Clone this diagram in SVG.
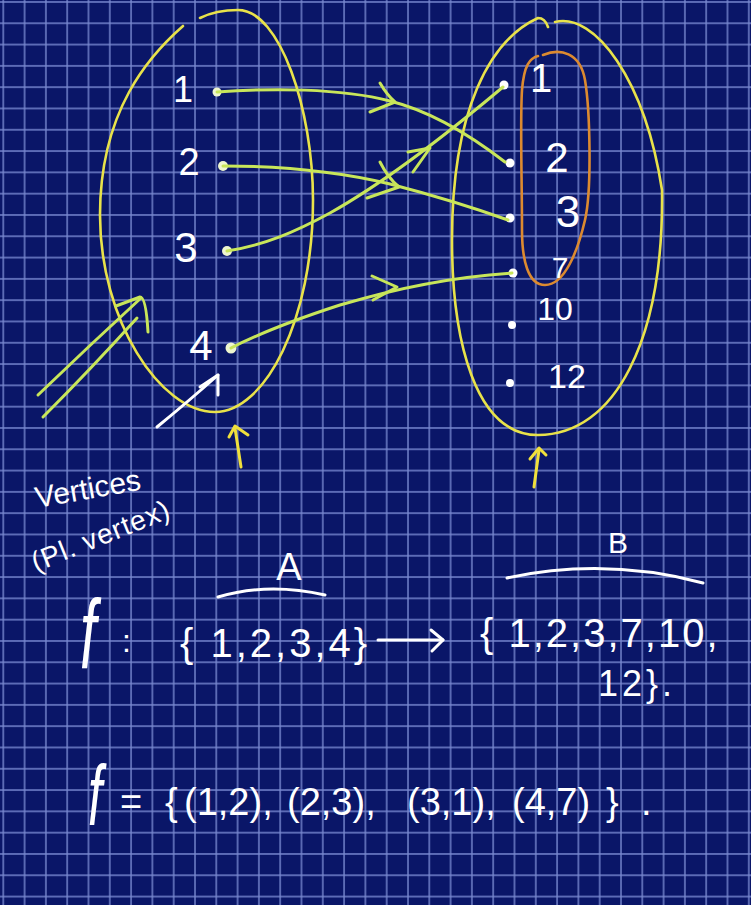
<svg xmlns="http://www.w3.org/2000/svg" width="751" height="905" viewBox="0 0 751 905">
<defs>
<pattern id="grid" patternUnits="userSpaceOnUse" x="2.3" y="1" width="21.3" height="21.3">
<path d="M1,0V21.3M0,1H21.3" stroke="#7888cf" stroke-width="1.4" fill="none"/>
</pattern>
</defs>
<style>
.set{fill:none;stroke:#e8e24a;stroke-width:2.6;stroke-linecap:round;stroke-linejoin:round}
.sub{fill:none;stroke:#dc8a30;stroke-width:2.6;stroke-linecap:round}
.con{fill:none;stroke:#c8e65a;stroke-width:3;stroke-linecap:round;stroke-linejoin:round}
.ylw{fill:none;stroke:#f0e03c;stroke-width:3;stroke-linecap:round;stroke-linejoin:round}
.wht{fill:none;stroke:#ffffff;stroke-width:3;stroke-linecap:round;stroke-linejoin:round}
.lbl{fill:#ffffff;font-family:'Liberation Sans',Arial,sans-serif;text-anchor:middle}
.txt{fill:#ffffff;font-family:'Liberation Sans',Arial,sans-serif}
.dotA{fill:#eef6cf}
.dotB{fill:#ffffff}
</style>
<rect width="751" height="905" fill="#0a1668"/>
<rect width="751" height="905" fill="url(#grid)"/>

<g id="setA">
<path class="set" d="M200,18 C212,12 225,10 238,10 C280,10 313,110 313,200 C313,320 265,412 215,412 C160,412 100,320 100,215 C100,110 150,55 183,26"/>
</g>
<g id="setB">
<path class="set" d="M555,22 C595,12 645,80 662,190 C664,340 615,435 538,435 C475,435 452,340 452,240 C452,110 490,40 538,18 Q545,18 548,27"/>
</g>
<g id="subset">
<path class="sub" d="M543,55 C560,48 580,52 585,80 C590,110 592,190 585,220 C578,250 565,285 545,285 C528,285 522,260 522,230 C522,180 520,120 522,90 C524,65 530,58 538,56"/>
</g>

<g id="a1"><circle class="dotA" cx="217" cy="92" r="4.5"/><text class="lbl" x="183" y="102" font-size="36">1</text></g>
<g id="a2"><circle class="dotA" cx="223" cy="166" r="5"/><text class="lbl" x="189" y="175" font-size="38">2</text></g>
<g id="a3"><circle class="dotA" cx="227" cy="251" r="5"/><text class="lbl" x="186" y="262" font-size="42">3</text></g>
<g id="a4"><circle class="dotA" cx="231" cy="348" r="5.5"/><text class="lbl" x="201" y="360" font-size="42">4</text></g>

<g id="b1"><circle class="dotB" cx="504" cy="85" r="4.5"/><text class="lbl" x="541" y="92" font-size="40">1</text></g>
<g id="b2"><circle class="dotB" cx="510" cy="163" r="4.5"/><text class="lbl" x="557" y="172" font-size="42">2</text></g>
<g id="b3"><circle class="dotB" cx="510" cy="218" r="4.5"/><text class="lbl" x="568" y="227" font-size="44">3</text></g>
<g id="b7"><circle class="dotB" cx="513" cy="273" r="4.5"/><text class="lbl" x="560" y="278" font-size="30">7</text></g>
<g id="b10"><circle class="dotB" cx="512" cy="325" r="4"/><text class="lbl" x="555" y="320" font-size="32">10</text></g>
<g id="b12"><circle class="dotB" cx="510" cy="383" r="4"/><text class="lbl" x="567" y="388" font-size="34">12</text></g>

<g id="connectors">
<path class="con" d="M217,92 C270,88 340,88 390,101 C430,111 470,135 505,162"/>
<path class="con" d="M380,83 Q387,95 395,102 L370,112"/>
<path class="con" d="M223,166 C280,166 340,172 390,184 C440,197 480,210 508,220"/>
<path class="con" d="M380,162 Q388,178 399,187 L367,198"/>
<path class="con" d="M227,251 C265,245 295,232 330,213 C380,185 440,140 503,87"/>
<path class="con" d="M408,152 L430,148 L413,172"/>
<path class="con" d="M231,348 C260,333 300,318 340,305 C390,290 450,277 512,273"/>
<path class="con" d="M372,276 L397,287 L373,300"/>
<path class="con" d="M38,395 Q90,345 141,298"/>
<path class="con" d="M116,306 L140,297 Q146,297 148,332"/>
<path class="con" d="M43,417 Q90,370 137,318"/>
<path class="wht" d="M157,427 Q190,400 218,375"/>
<path class="wht" d="M200,387 L218,375 L218,395"/>
<path class="ylw" d="M241,467 L235,428"/>
<path class="ylw" d="M229,437 L235,426 L248,435"/>
<path class="ylw" d="M534,487 L539,450"/>
<path class="ylw" d="M530,459 L539,448 L546,455"/>
<path class="wht" d="M378,640 L443,640"/>
<path class="wht" d="M431,630 L443,640 L432,651"/>
</g>

<g id="notes">
<text class="txt" font-size="30" transform="translate(37,508) rotate(-10)">Vertices</text>
<text class="txt" font-size="28" letter-spacing="1" transform="translate(36,572) rotate(-22)">(Pl. vertex)</text>
<text class="lbl" x="289" y="580" font-size="38">A</text>
<path class="wht" d="M218,597 Q268,582 325,595"/>
<text class="lbl" x="618" y="553" font-size="30">B</text>
<path class="wht" d="M507,578 Q605,557 703,583"/>
<text class="txt" font-family="'Liberation Serif',serif" font-style="italic" font-size="78" transform="translate(80,668) scale(0.75,1.25)">f</text>
<text class="txt" x="122" y="652" font-size="32">:</text>
<text class="txt" x="180" y="657" font-size="40" letter-spacing="3">{ 1,2,3,4}</text>
<text class="txt" x="480" y="647" font-size="40" letter-spacing="2">{ 1,2,3,7,10,</text>
<text class="txt" x="598" y="696" font-size="36" letter-spacing="4">12}.</text>
<text class="txt" font-family="'Liberation Serif',serif" font-style="italic" font-size="68" transform="translate(88,825) scale(0.75,1.25)">f</text>
<text class="txt" font-size="38" y="815"><tspan x="120">=</tspan><tspan x="165">{</tspan><tspan x="184">(1,2),</tspan><tspan x="287">(2,3),</tspan><tspan x="407">(3,1),</tspan><tspan x="512">(4,7)</tspan><tspan x="606">}</tspan><tspan x="641">.</tspan></text>
</g>
</svg>
